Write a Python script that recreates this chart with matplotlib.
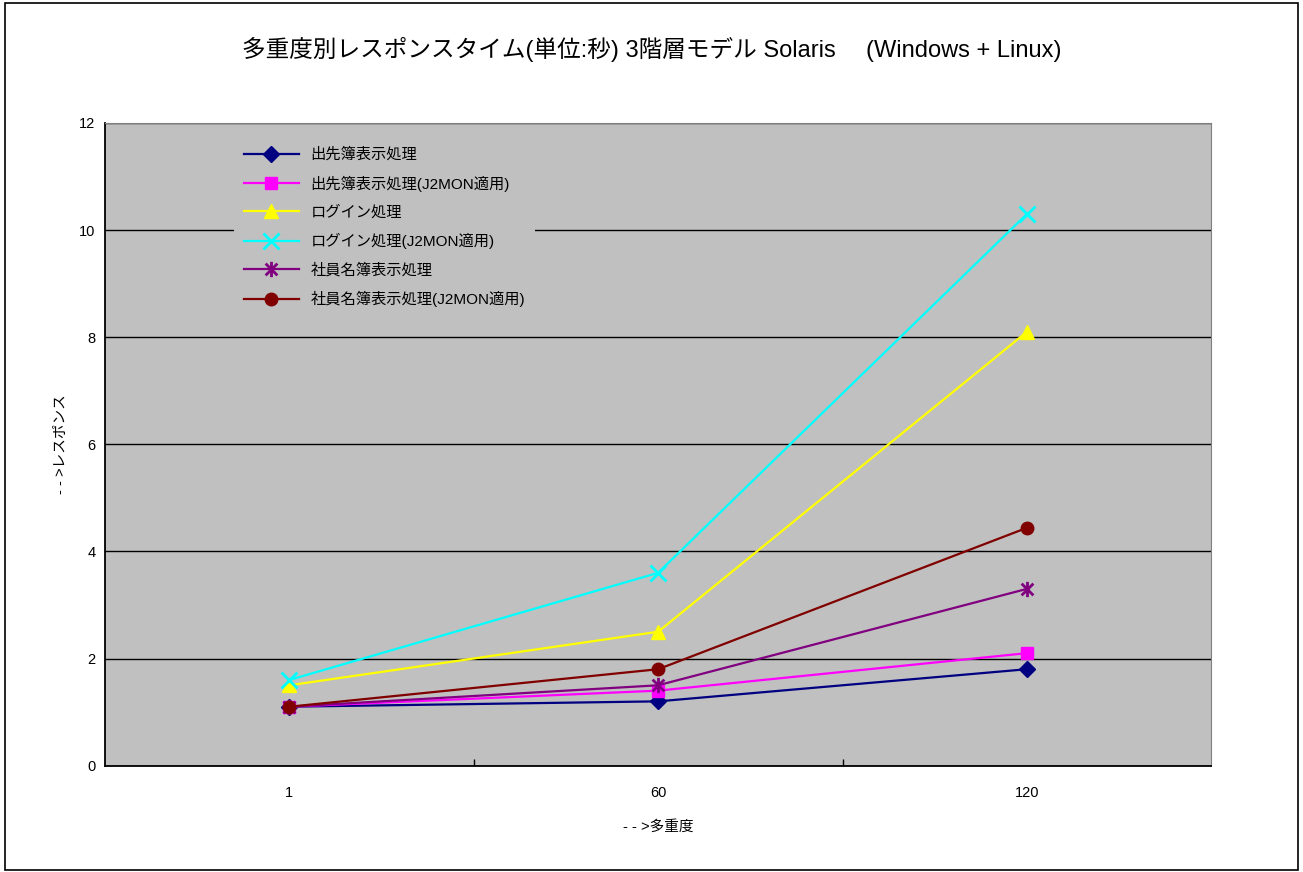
import matplotlib.pyplot as plt
from matplotlib.patches import Rectangle
from matplotlib.path import Path

plt.rcParams['font.family'] = ['Liberation Sans', 'Noto Sans CJK JP', 'DejaVu Sans']

# データ
categories = ['1', '60', '120']
series_names = ['出先簿表示処理', '出先簿表示処理(J2MON適用)', 'ログイン処理', 'ログイン処理(J2MON適用)',
                '社員名簿表示処理', '社員名簿表示処理(J2MON適用)']
desk = [1.1, 1.2, 1.8]
desk_j2 = [1.1, 1.4, 2.1]
login = [1.5, 2.5, 8.1]
login_j2 = [1.6, 3.6, 10.3]
staff = [1.1, 1.5, 3.3]
staff_j2 = [1.1, 1.8, 4.44]

# Excelのアスタリスク(×+縦線)
asterisk = Path([(-1, -1), (1, 1), (-1, 1), (1, -1), (0, -1.3), (0, 1.3)],
                [Path.MOVETO, Path.LINETO, Path.MOVETO, Path.LINETO, Path.MOVETO, Path.LINETO])

values = [desk, desk_j2, login, login_j2, staff, staff_j2]
colors = ['#000080', '#FF00FF', '#FFFF00', '#00FFFF', '#800080', '#800000']
markers = ['D', 's', '^', 'x', asterisk, 'o']
msizes = [8, 8, 10, 11, 11, 9]

fig = plt.figure(figsize=(13.03, 8.72), dpi=100)
fig.patches.append(Rectangle((0.004, 0.002), 0.992, 0.994, transform=fig.transFigure,
                             fill=False, edgecolor='black', linewidth=1.2))
ax = fig.add_axes([0.0806, 0.122, 0.849, 0.737])
ax.set_facecolor('#C0C0C0')

x = list(range(len(categories)))
for i, (name, v, c, ms) in enumerate(zip(series_names, values, colors, msizes)):
    m = markers[i]
    ax.plot(x, v, color=c, marker=m, markersize=ms, linewidth=1.6, label=name,
            markeredgewidth=2 if i in (3, 4) else 1, markeredgecolor=c)

ax.set_xlim(-0.5, 2.5)
ax.set_ylim(0, 12)
ax.set_yticks(range(0, 13, 2))
ax.set_xticks(x)
ax.set_xticklabels(categories)
ax.set_xticks([0.5, 1.5], minor=True)
ax.tick_params(axis='x', which='major', length=0, pad=15, labelsize=10.5)
ax.tick_params(axis='x', which='minor', length=5, direction='in', width=1)
ax.tick_params(axis='y', length=0, labelsize=10.5, pad=7)
ax.yaxis.grid(True, color='black', linewidth=1)
ax.set_axisbelow(True)
for s in ['top', 'right']:
    ax.spines[s].set_color('#808080')
for s in ['left', 'bottom']:
    ax.spines[s].set_color('black')
    ax.spines[s].set_linewidth(1.3)

ax.set_xlabel('- - >多重度', fontsize=10.5, labelpad=14)
ax.set_ylabel('- - >レスポンス', fontsize=10.5, labelpad=8)

fig.suptitle('多重度別レスポンスタイム(単位:秒) 3階層モデル Solaris　 (Windows + Linux)',
             fontsize=17, y=0.958)

leg = ax.legend(loc='upper left', bbox_to_anchor=(0.11, 0.988), frameon=True, fontsize=11,
                handlelength=3.6, labelspacing=0.88, borderpad=0.6)
leg.get_frame().set_facecolor('#C0C0C0')
leg.get_frame().set_edgecolor('none')
leg.get_frame().set_alpha(1)

fig.savefig('out.png', dpi=100)
